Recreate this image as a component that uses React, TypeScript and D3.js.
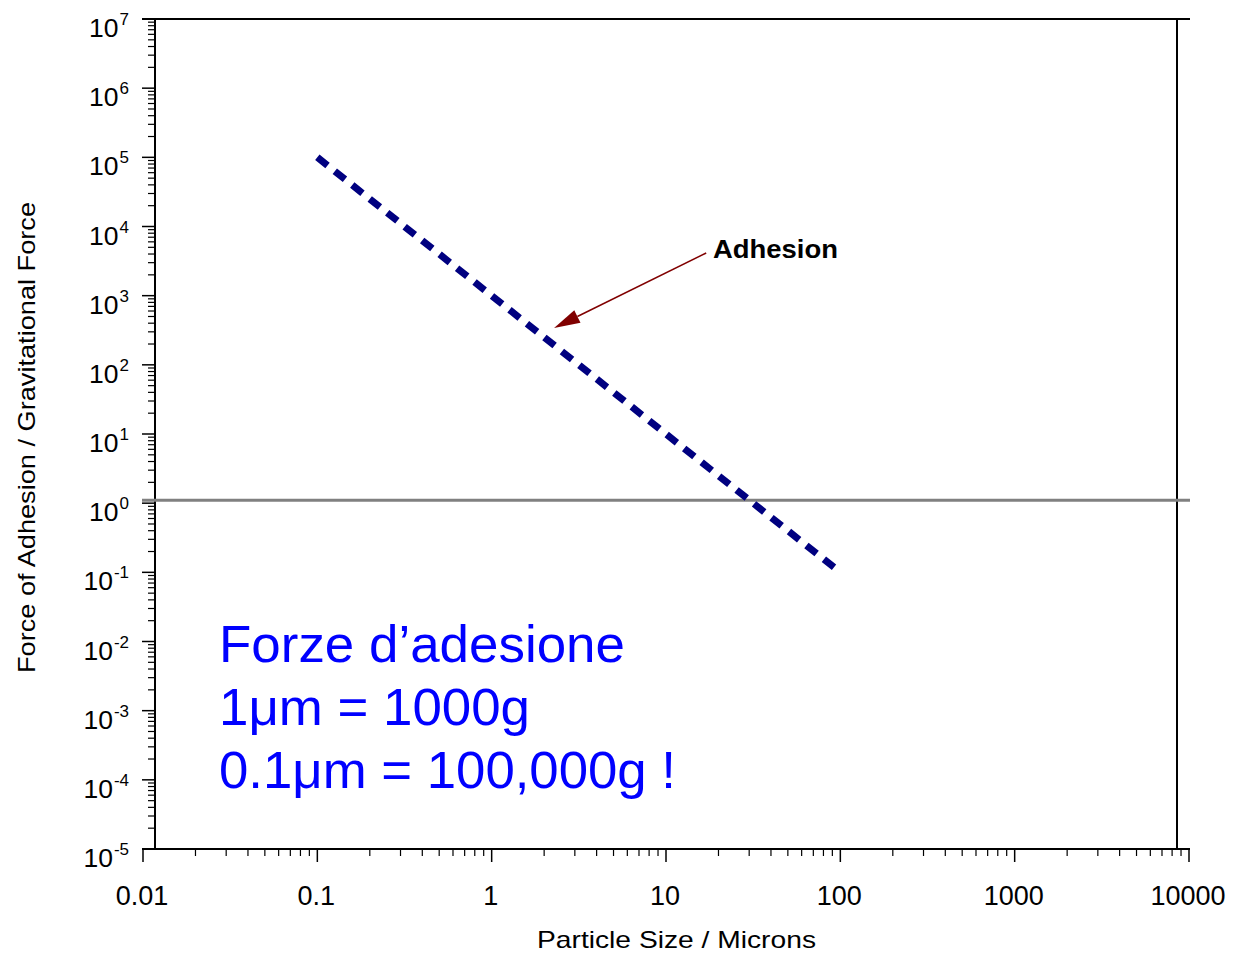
import React from "react";
import * as d3 from "d3";

// Data
const particleSize = [0.1, 1, 10, 92];
const forceRatio = [100000, 1000, 10, 0.118];
const gravityLineValue = 1.1;
const xTickValues = [0.01, 0.1, 1, 10, 100, 1000, 10000];
const xTickLabels = ["0.01", "0.1", "1", "10", "100", "1000", "10000"];
const yTickExponents = [-5, -4, -3, -2, -1, 0, 1, 2, 3, 4, 5, 6, 7];
const annotationText = "Adhesion";
const annotationFrom = [17.0, 4140];
const annotationTo = [2.28, 341];
const noteLines = ["Forze d\u2019adesione", "1\u03bcm = 1000g", "0.1\u03bcm = 100,000g !"];
const noteWidths = [406, 311, 457];

const W = 1235;
const H = 953;
const FONT = "Arial, 'Liberation Sans', Helvetica, sans-serif";

export default function App() {
  const x = d3.scaleLog().domain([0.01, 10000]).range([143, 1189]);
  const y = d3.scaleLog().domain([1e-5, 1e7]).range([849, 19]);

  const xMinor: number[] = [];
  for (let e = -2; e < 4; e++) for (let m = 2; m <= 9; m++) xMinor.push(m * Math.pow(10, e));
  const yMinor: number[] = [];
  for (let e = -5; e < 7; e++) for (let m = 2; m <= 9; m++) yMinor.push(m * Math.pow(10, e));

  const pts = particleSize.map((p, i) => [x(p), y(forceRatio[i])] as [number, number]);
  const line = d3.line()(pts) || "";

  const ax0 = x(annotationFrom[0]), ay0 = y(annotationFrom[1]);
  const ax1 = x(annotationTo[0]), ay1 = y(annotationTo[1]);
  const ang = Math.atan2(ay1 - ay0, ax1 - ax0);
  const headLen = 26, headW = 7;
  const bx = ax1 - headLen * Math.cos(ang), by = ay1 - headLen * Math.sin(ang);
  const head = [
    [ax1, ay1],
    [bx + headW * Math.sin(ang), by - headW * Math.cos(ang)],
    [bx - headW * Math.sin(ang), by + headW * Math.cos(ang)],
  ];

  const left = 155;
  const bottom = 849;
  const top = 19;
  const right = 1177;

  return (
    <svg width={W} height={H} style={{ position: "absolute", left: 0, top: 0, background: "#fff" }} fontFamily={FONT}>
      {/* frame */}
      <line x1={142} x2={1190} y1={top} y2={top} stroke="#000" strokeWidth={2} />
      <line x1={142} x2={1190} y1={bottom} y2={bottom} stroke="#000" strokeWidth={2} />
      <line x1={left} x2={left} y1={top} y2={bottom} stroke="#000" strokeWidth={2} />
      <line x1={right} x2={right} y1={top} y2={bottom} stroke="#000" strokeWidth={2} />

      {/* x ticks */}
      {xMinor.map((v, i) => (
        <line key={"xm" + i} x1={x(v)} x2={x(v)} y1={bottom} y2={bottom + 7} stroke="#000" strokeWidth={1.2} />
      ))}
      {xTickValues.map((v, i) => (
        <g key={"xt" + i}>
          <line x1={x(v)} x2={x(v)} y1={bottom} y2={bottom + 13} stroke="#000" strokeWidth={1.5} />
          <text x={x(v) - 1} y={905} textAnchor="middle" fontSize={27} fill="#000">{xTickLabels[i]}</text>
        </g>
      ))}

      {/* y ticks */}
      {yMinor.map((v, i) => (
        <line key={"ym" + i} x1={left - 7} x2={left} y1={y(v)} y2={y(v)} stroke="#000" strokeWidth={1.2} />
      ))}
      {yTickExponents.map((e, i) => {
        const yy = y(Math.pow(10, e));
        return (
          <g key={"yt" + i}>
            <line x1={142} x2={left} y1={yy} y2={yy} stroke="#000" strokeWidth={1.5} />
            <text x={129} y={yy + 18} textAnchor="end" fontSize={26.5} fill="#000">
              10<tspan dx={1} dy={-12} fontSize={17}>{String(e)}</tspan>
            </text>
          </g>
        );
      })}

      {/* gravity reference line */}
      <line x1={142} x2={1190} y1={y(gravityLineValue)} y2={y(gravityLineValue)} stroke="#808080" strokeWidth={3} />

      {/* adhesion line */}
      <path d={line} fill="none" stroke="#000080" strokeWidth={7} strokeDasharray="13 9.3" strokeLinecap="butt" />

      {/* annotation */}
      <line x1={ax0} y1={ay0} x2={bx} y2={by} stroke="#800000" strokeWidth={1.5} />
      <polygon points={head.map((p) => p.join(",")).join(" ")} fill="#800000" />
      <text x={713} y={258} fontSize={26.5} fontWeight="bold" fill="#000" textLength={125} lengthAdjust="spacingAndGlyphs">{annotationText}</text>

      {/* blue note */}
      {noteLines.map((t, i) => (
        <text key={"n" + i} x={219} y={662 + i * 63} fontSize={52} fill="#0000ff" textLength={noteWidths[i]} lengthAdjust="spacingAndGlyphs">{t}</text>
      ))}

      {/* axis titles */}
      <text x={676.5} y={948} textAnchor="middle" fontSize={24} fill="#000" textLength={279} lengthAdjust="spacingAndGlyphs">Particle Size / Microns</text>
      <text transform="translate(35,437.5) rotate(-90)" textAnchor="middle" fontSize={24} fill="#000" textLength={471} lengthAdjust="spacingAndGlyphs">Force of Adhesion / Gravitational Force</text>
    </svg>
  );
}
